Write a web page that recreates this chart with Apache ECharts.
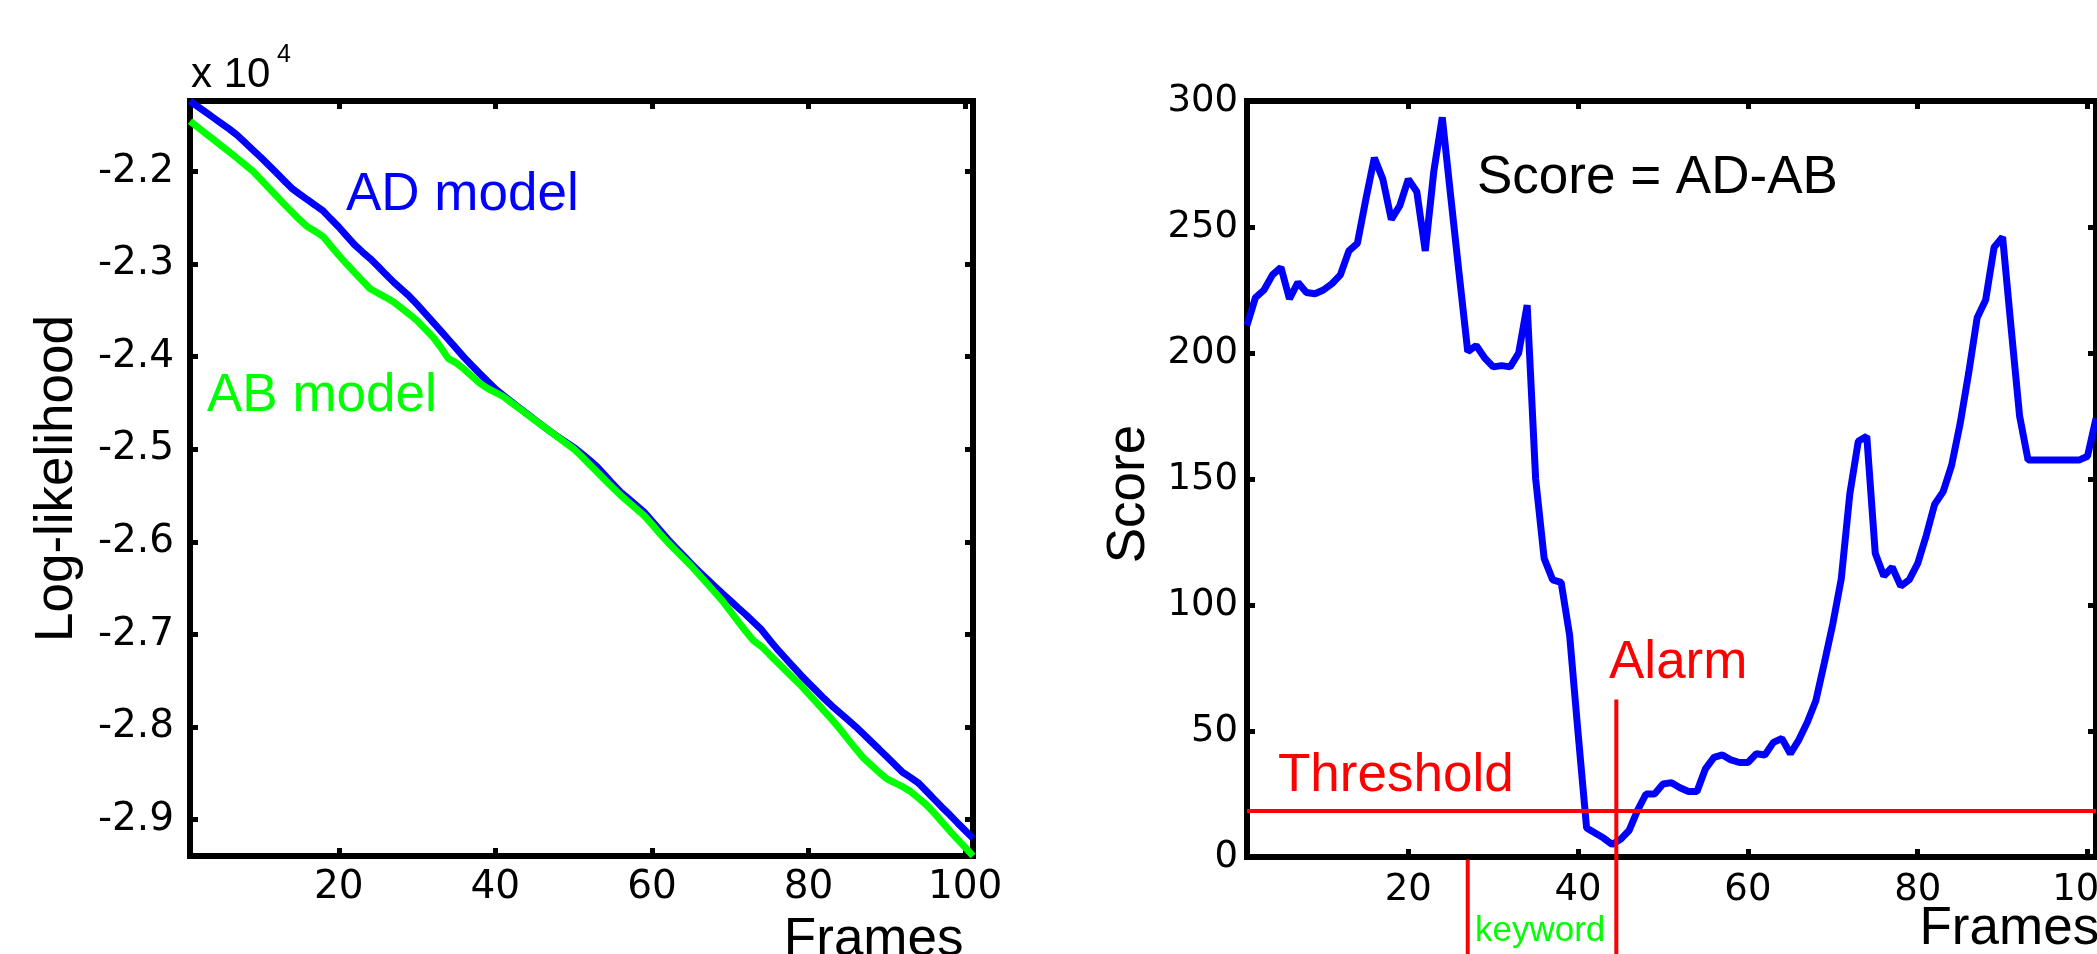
<!DOCTYPE html>
<html><head><meta charset="utf-8">
<script src="https://cdn.jsdelivr.net/npm/echarts@6/dist/echarts.min.js"></script>
<style>html,body{margin:0;padding:0;background:#fff}#c{width:2097px;height:954px}</style>
</head><body><div id="c"></div>
<script>
const FONT = '"Liberation Sans", Arial, sans-serif';
const TICKFONT = '"DejaVu Sans", "Liberation Sans", sans-serif';
const frames = Array.from({length: 101}, (_, i) => i + 1);

// Log-likelihood of the AD model (raw values; axis shows x 10^4)
const adModel = [-21240,-21300,-21360,-21420,-21480,-21540,-21606,-21685,-21765,-21844,
-21928,-22012,-22097,-22182,-22244,-22305,-22365,-22426,-22514,-22600,
-22695,-22790,-22867,-22941,-23024,-23111,-23195,-23271,-23347,-23435,
-23530,-23624,-23719,-23815,-23911,-24007,-24095,-24181,-24266,-24350,
-24417,-24483,-24550,-24614,-24679,-24743,-24807,-24865,-24922,-24979,
-25045,-25114,-25189,-25282,-25375,-25462,-25534,-25607,-25679,-25774,
-25872,-25970,-26059,-26147,-26236,-26320,-26399,-26479,-26558,-26634,
-26711,-26787,-26868,-26950,-27056,-27158,-27251,-27344,-27437,-27523,
-27608,-27693,-27773,-27847,-27920,-27994,-28075,-28157,-28238,-28321,
-28405,-28488,-28543,-28602,-28687,-28775,-28862,-28945,-29032,-29117,
-29200];

// Log-likelihood of the AB model
const abModel = [-21457,-21523,-21589,-21655,-21721,-21788,-21856,-21925,-21994,-22083,
-22172,-22261,-22350,-22436,-22521,-22597,-22647,-22703,-22804,-22905,
-22999,-23090,-23179,-23266,-23313,-23359,-23409,-23475,-23541,-23611,
-23698,-23784,-23897,-24021,-24067,-24134,-24211,-24286,-24342,-24386,
-24430,-24493,-24556,-24619,-24682,-24744,-24807,-24870,-24933,-24995,
-25076,-25161,-25246,-25331,-25416,-25497,-25570,-25643,-25716,-25811,
-25910,-26004,-26089,-26174,-26258,-26352,-26447,-26541,-26637,-26748,
-26859,-26969,-27070,-27130,-27215,-27299,-27383,-27466,-27549,-27641,
-27734,-27827,-27920,-28021,-28127,-28232,-28333,-28410,-28488,-28559,
-28601,-28644,-28694,-28765,-28836,-28924,-29021,-29117,-29209,-29300,
-29392];

// Score = AD - AB
const score = [211,222,225,231,234,221.5,228,224,223.5,225,
227.5,231,240.5,243.5,261,277.5,269,253,258.5,269,
264,240.5,272,293.5,262,231,200.5,203,198,194.5,
195,194.5,200,219,150,118.5,110,109,88,49,
11.5,9.5,7.5,5,7,10.5,18.5,25,25,29,
29.5,27.5,26,26,35,39.5,40.5,38.5,37.5,37.5,
41,40.5,45.5,47,41,46.5,53.5,62,77,92.5,
110.5,144,165,167,120.5,111.5,115,107.5,110,116.5,
127.5,140,145,155.5,172,192,214,221,242,246,
210,175,157.5,157.5,157.5,157.5,157.5,157.5,157.5,159,
174];

const frameTicks = [20, 40, 60, 80, 100];
const llTicks = [-29000, -28000, -27000, -26000, -25000, -24000, -23000, -22000];
const llRange = [-29392, -21239];
const frameRange = [1, 101];
const scoreRange = [0, 300];
const scoreInterval = 50;
const threshold = 18.3;
const alarmFrame = 44.5, alarmTop = 62.5;
const keywordFrame = 27, keywordTop = -1;
const annotationBottom = -45;

const pair = (xs, ys) => xs.map((x, i) => [x, ys[i]]);

function xAx(grid, pos, labels, fs, margin, nameOpt) {
  const a = {
    gridIndex: grid, type: 'value', position: pos, min: frameRange[0], max: frameRange[1],
    axisLine: {show: false, onZero: false},
    axisTick: {show: true, inside: true, length: 8, lineStyle: {color: '#000', width: 5}, customValues: frameTicks},
    axisLabel: {show: labels, customValues: frameTicks, fontSize: fs, color: '#000', fontFamily: TICKFONT, margin: margin},
    splitLine: {show: false},
    nameMoveOverlap: false
  };
  return Object.assign(a, nameOpt || {});
}
function yAx(grid, pos, labels, base, fs, margin, nameOpt) {
  const a = Object.assign({
    gridIndex: grid, type: 'value', position: pos,
    axisLine: {show: false, onZero: false},
    splitLine: {show: false},
    nameMoveOverlap: false
  }, base);
  a.axisTick = Object.assign({show: true, inside: true, length: 8, lineStyle: {color: '#000', width: 5}}, base.tickExtra || {});
  a.axisLabel = Object.assign({show: labels, fontSize: fs, color: '#000', fontFamily: TICKFONT, margin: margin}, base.labelExtra || {});
  delete a.tickExtra; delete a.labelExtra;
  return Object.assign(a, nameOpt || {});
}

const llBase = {min: llRange[0], max: llRange[1],
  tickExtra: {customValues: llTicks},
  labelExtra: {customValues: llTicks, formatter: v => (v / 1e4).toFixed(1)}};
const scBase = {min: scoreRange[0], max: scoreRange[1], interval: scoreInterval};

const chart = echarts.init(document.getElementById('c'), null, {renderer: 'canvas'});
chart.setOption({
  animation: false,
  backgroundColor: '#fff',
  textStyle: {fontFamily: FONT},
  grid: [
    {left: 190, top: 101, width: 783, height: 755, show: true, borderColor: '#000', borderWidth: 6,
      backgroundColor: 'transparent', containLabel: false, outerBoundsMode: 'none'},
    {left: 1247, top: 101, width: 849, height: 756, show: true, borderColor: '#000', borderWidth: 6,
      backgroundColor: 'transparent', containLabel: false, outerBoundsMode: 'none'}
  ],
  xAxis: [
    xAx(0, 'bottom', true, 39, 12, {name: 'Frames', nameLocation: 'end', nameGap: -9.5,
      nameTextStyle: {fontSize: 53, color: '#000', fontFamily: FONT, align: 'right', verticalAlign: 'top', padding: [58, 0, 0, 0]}}),
    xAx(0, 'top', false, 39, 12),
    xAx(1, 'bottom', true, 37, 15, {name: 'Frames', nameLocation: 'end', nameGap: -176.5,
      nameTextStyle: {fontSize: 53, color: '#000', fontFamily: FONT, align: 'left', verticalAlign: 'top', padding: [46, 0, 0, 0]}}),
    xAx(1, 'top', false, 37, 15)
  ],
  yAxis: [
    yAx(0, 'left', true, llBase, 39, 16, {name: 'Log-likelihood', nameLocation: 'middle', nameGap: 106,
      nameTextStyle: {fontSize: 53, color: '#000', fontFamily: FONT}}),
    yAx(0, 'right', false, llBase, 39, 16),
    yAx(1, 'left', true, scBase, 37, 9, {name: 'Score', nameLocation: 'middle', nameGap: 91,
      nameTextStyle: {fontSize: 53, color: '#000', fontFamily: FONT, padding: [0, 30, 0, 0]}}),
    yAx(1, 'right', false, scBase, 37, 9)
  ],
  series: [
    {name: 'AD model', type: 'line', xAxisIndex: 0, yAxisIndex: 0, data: pair(frames, adModel),
      showSymbol: false, symbol: 'none', lineStyle: {color: '#0000ff', width: 7}, z: 2},
    {name: 'AB model', type: 'line', xAxisIndex: 0, yAxisIndex: 0, data: pair(frames, abModel),
      showSymbol: false, symbol: 'none', lineStyle: {color: '#00ff00', width: 7}, z: 3},
    {name: 'Score', type: 'line', xAxisIndex: 2, yAxisIndex: 2, data: pair(frames, score),
      showSymbol: false, symbol: 'none', lineStyle: {color: '#0000ff', width: 7}, z: 2,
      markLine: {silent: true, symbol: 'none', label: {show: false},
        lineStyle: {color: '#ff0000', width: 4, type: 'solid'}, data: [{yAxis: threshold}]}},
    {name: 'Alarm', type: 'line', xAxisIndex: 2, yAxisIndex: 2, clip: false,
      data: [[alarmFrame, alarmTop], [alarmFrame, annotationBottom]],
      showSymbol: false, symbol: 'none', lineStyle: {color: '#ff0000', width: 4}, z: 4},
    {name: 'Keyword', type: 'line', xAxisIndex: 2, yAxisIndex: 2, clip: false,
      data: [[keywordFrame, keywordTop], [keywordFrame, annotationBottom]],
      showSymbol: false, symbol: 'none', lineStyle: {color: '#ff0000', width: 4}, z: 4}
  ],
  graphic: [
    {type: 'text', x: 191, y: 75.5, style: {text: 'x 10', font: '42px ' + FONT, fill: '#000', verticalAlign: 'middle'}},
    {type: 'text', x: 277, y: 55, style: {text: '4', font: '25px ' + FONT, fill: '#000', verticalAlign: 'middle'}},
    {type: 'text', x: 346, y: 195.6, style: {text: 'AD model', font: '53px ' + FONT, fill: '#0000ff', verticalAlign: 'middle'}},
    {type: 'text', x: 207, y: 396.6, style: {text: 'AB model', font: '53px ' + FONT, fill: '#00ff00', verticalAlign: 'middle'}},
    {type: 'text', x: 1477, y: 178.6, style: {text: 'Score = AD-AB', font: '53px ' + FONT, fill: '#000', verticalAlign: 'middle'}},
    {type: 'text', x: 1278, y: 776.6, style: {text: 'Threshold', font: '53px ' + FONT, fill: '#ff0000', verticalAlign: 'middle'}},
    {type: 'text', x: 1609, y: 663.3, style: {text: 'Alarm', font: '53px ' + FONT, fill: '#ff0000', verticalAlign: 'middle'}},
    {type: 'text', x: 1475, y: 931.2, style: {text: 'keyword', font: '35px ' + FONT, fill: '#00ff00', verticalAlign: 'middle'}}
  ]
});
</script>
</body></html>
